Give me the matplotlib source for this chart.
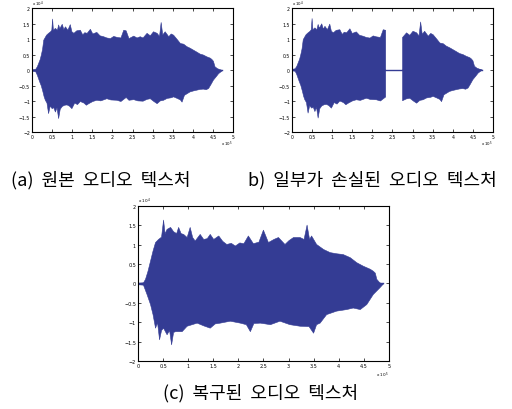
import numpy as np
import matplotlib.pyplot as plt

plt.rcParams['font.family'] = ['Noto Sans CJK KR', 'DejaVu Sans']

# waveform envelopes (time in 1e5 samples, amplitude in 1e4)
t_up_a = [0, 0.08, 0.12, 0.16, 0.19, 0.22, 0.25, 0.28, 0.31, 0.35, 0.4, 0.45, 0.48, 0.5, 0.52,
          0.57, 0.62, 0.65, 0.68, 0.74, 0.78, 0.82, 0.88, 0.94, 0.98, 1.03, 1.1, 1.19, 1.25, 1.3,
          1.36, 1.44, 1.5, 1.6, 1.68, 1.77, 1.85, 1.94, 2.02, 2.1, 2.2, 2.27, 2.33, 2.4, 2.52,
          2.6, 2.68, 2.75, 2.85, 2.93, 3.01, 3.1, 3.16, 3.2, 3.24, 3.3, 3.39, 3.45, 3.51, 3.6,
          3.68, 3.76, 3.84, 3.92, 4.0, 4.08, 4.17, 4.25, 4.34, 4.42, 4.46, 4.5, 4.54, 4.6, 4.66, 4.73]
up_a = [0.02, 0.04, 0.12, 0.25, 0.35, 0.5, 0.68, 0.98, 1.05, 1.14, 1.2, 1.25, 1.3, 1.66, 1.3,
        1.36, 1.3, 1.47, 1.35, 1.49, 1.32, 1.41, 1.3, 1.48, 1.25, 1.2, 1.28, 1.3, 1.15, 1.22,
        1.2, 1.33, 1.18, 1.23, 1.12, 1.09, 1.05, 1.03, 1.1, 1.07, 1.05, 1.3, 1.28, 1.03, 1.11,
        1.05, 1.09, 1.05, 1.2, 1.12, 1.25, 1.2, 1.1, 1.55, 1.15, 1.25, 1.09, 1.18, 1.14, 1.0,
        0.87, 0.85, 0.77, 0.72, 0.66, 0.6, 0.53, 0.5, 0.44, 0.4, 0.36, 0.3, 0.12, 0.06, 0.03, 0.0]
t_lo_a = [0, 0.08, 0.12, 0.18, 0.22, 0.26, 0.29, 0.32, 0.36, 0.4, 0.44, 0.49, 0.53, 0.57, 0.61,
          0.65, 0.69, 0.74, 0.8, 0.86, 0.92, 0.98, 1.05, 1.12, 1.19, 1.28, 1.34, 1.4, 1.5, 1.6,
          1.7, 1.85, 1.95, 2.1, 2.2, 2.33, 2.4, 2.52, 2.62, 2.75, 2.85, 2.93, 3.02, 3.1, 3.18,
          3.26, 3.35, 3.45, 3.51, 3.6, 3.68, 3.72, 3.78, 3.92, 4.0, 4.1, 4.17, 4.25, 4.32, 4.38,
          4.44, 4.5, 4.57, 4.63, 4.73]
lo_a = [-0.02, -0.04, -0.15, -0.37, -0.5, -0.69, -0.85, -0.96, -1.05, -1.39, -1.15, -1.23, -1.2,
        -1.34, -1.2, -1.55, -1.25, -1.16, -1.12, -1.11, -1.15, -1.23, -1.05, -1.1, -1.0, -1.05,
        -1.12, -1.07, -1.0, -0.96, -0.98, -0.91, -0.95, -0.96, -1.0, -0.87, -0.96, -0.94, -0.98,
        -0.99, -0.93, -0.91, -1.0, -1.07, -0.98, -0.96, -0.9, -0.88, -0.85, -0.9, -0.95, -1.02,
        -0.8, -0.69, -0.66, -0.63, -0.61, -0.6, -0.62, -0.58, -0.45, -0.31, -0.2, -0.1, 0.0]

gap_b = (2.33, 2.75)  # missing part in (b)

t_up_c = [0, 0.1, 0.14, 0.19, 0.24, 0.29, 0.34, 0.4, 0.46, 0.5, 0.53, 0.57, 0.64, 0.7, 0.76,
          0.8, 0.85, 0.9, 0.97, 1.03, 1.08, 1.13, 1.23, 1.3, 1.37, 1.43, 1.5, 1.6, 1.68, 1.76,
          1.85, 1.93, 2.02, 2.1, 2.19, 2.29, 2.4, 2.49, 2.59, 2.7, 2.79, 2.92, 3.0, 3.09, 3.22,
          3.3, 3.36, 3.41, 3.45, 3.55, 3.69, 3.82, 3.95, 4.08, 4.22, 4.35, 4.48, 4.62, 4.68,
          4.72, 4.75, 4.81, 4.88]
up_c = [0.02, 0.03, 0.12, 0.33, 0.59, 0.85, 1.07, 1.15, 1.21, 1.65, 1.3, 1.41, 1.46, 1.35, 1.3,
        1.46, 1.3, 1.28, 1.2, 1.46, 1.2, 1.11, 1.28, 1.15, 1.17, 1.28, 1.15, 1.24, 1.1, 1.02,
        1.05, 0.98, 1.06, 1.04, 1.24, 1.04, 1.08, 1.39, 1.07, 1.15, 1.2, 1.02, 1.12, 1.2, 1.2,
        1.15, 1.52, 1.15, 1.24, 1.02, 0.89, 0.81, 0.78, 0.76, 0.68, 0.55, 0.46, 0.38, 0.33,
        0.28, 0.12, 0.03, 0.0]
t_lo_c = [0, 0.1, 0.17, 0.24, 0.29, 0.34, 0.38, 0.42, 0.46, 0.5, 0.57, 0.62, 0.66, 0.7, 0.74,
          0.87, 0.97, 1.07, 1.17, 1.3, 1.43, 1.53, 1.63, 1.83, 2.03, 2.15, 2.23, 2.3, 2.43, 2.63,
          2.82, 3.02, 3.22, 3.4, 3.49, 3.55, 3.62, 3.75, 3.95, 4.15, 4.28, 4.42, 4.55, 4.68,
          4.81, 4.88]
lo_c = [-0.02, -0.03, -0.27, -0.53, -0.79, -1.14, -1.0, -1.44, -1.2, -1.14, -1.31, -1.2, -1.57,
        -1.25, -1.23, -1.23, -1.09, -1.05, -1.01, -1.08, -1.14, -1.03, -1.01, -0.96, -1.01,
        -1.05, -1.23, -1.02, -1.01, -1.05, -0.96, -1.05, -1.09, -1.1, -1.27, -1.05, -1.01,
        -0.79, -0.7, -0.66, -0.62, -0.66, -0.53, -0.27, -0.1, 0.0]

xticks = [0, 0.5, 1, 1.5, 2, 2.5, 3, 3.5, 4, 4.5, 5]
xlabels = ['0', '0.5', '1', '1.5', '2', '2.5', '3', '3.5', '4', '4.5', '5']
yticks = [-2, -1.5, -1, -0.5, 0, 0.5, 1, 1.5, 2]
ylabels = ['\u22122', '\u22121.5', '\u22121', '\u22120.5', '0', '0.5', '1', '1.5', '2']

captions = ['(a)  원본  오디오  텍스처', 'b)  일부가  손실된  오디오  텍스처', '(c)  복구된  오디오  텍스처']

wave = '#343c94'

fig = plt.figure(figsize=(5.12, 4.1), dpi=100)
fig.patch.set_facecolor('white')


def style(ax, fs):
    ax.set_xlim(0, 5)
    ax.set_ylim(-2, 2)
    ax.set_xticks(xticks)
    ax.set_xticklabels(xlabels, fontsize=fs, family='DejaVu Sans')
    ax.set_yticks(yticks)
    ax.set_yticklabels(ylabels, fontsize=fs, family='DejaVu Sans')
    ax.tick_params(direction='in', length=2, width=0.5, top=True, right=True, pad=1.5)
    for s in ax.spines.values():
        s.set_linewidth(0.8)
    ax.text(0, 1.004, r'x 10$^4$', transform=ax.transAxes, fontsize=fs * 0.85,
            family='DejaVu Sans', va='bottom', ha='left')
    ax.text(1.0, -0.055, r'x 10$^5$', transform=ax.transAxes, fontsize=fs * 0.85,
            family='DejaVu Sans', va='top', ha='right')


def draw(ax, tu, u, tl, l, mask_u=None, mask_l=None):
    tu, u, tl, l = map(np.asarray, (tu, u, tl, l))
    ax.fill_between(tu, 0, u, where=mask_u, color=wave, lw=0.4, ec=wave)
    ax.fill_between(tl, l, 0, where=mask_l, color=wave, lw=0.4, ec=wave)


# (a)
ax1 = fig.add_axes([0.0625, 0.6756, 0.3926, 0.3024])
draw(ax1, t_up_a, up_a, t_lo_a, lo_a)
ax1.plot([0, t_up_a[-1]], [0, 0], color=wave, lw=1)
style(ax1, 3.3)

# (b)
ax2 = fig.add_axes([0.5703, 0.6756, 0.3926, 0.3024])
tu = np.asarray(t_up_a)
tl = np.asarray(t_lo_a)
draw(ax2, t_up_a, up_a, t_lo_a, lo_a,
     mask_u=(tu <= gap_b[0]) | (tu >= gap_b[1]),
     mask_l=(tl <= gap_b[0]) | (tl >= gap_b[1]))
ax2.plot([0, t_up_a[-1]], [0, 0], color=wave, lw=1)
style(ax2, 3.3)

# (c)
ax3 = fig.add_axes([0.2695, 0.1171, 0.490, 0.378])
draw(ax3, t_up_c, up_c, t_lo_c, lo_c)
ax3.plot([0, t_up_c[-1]], [0, 0], color=wave, lw=1)
style(ax3, 3.5)

fig.text(101 / 512, 1 - 180 / 410, captions[0], fontsize=13, ha='center', va='center')
fig.text(372 / 512, 1 - 180 / 410, captions[1], fontsize=13, ha='center', va='center')
fig.text(261 / 512, 1 - 393 / 410, captions[2], fontsize=13, ha='center', va='center')

fig.savefig('out.png', dpi=100, facecolor='white')
